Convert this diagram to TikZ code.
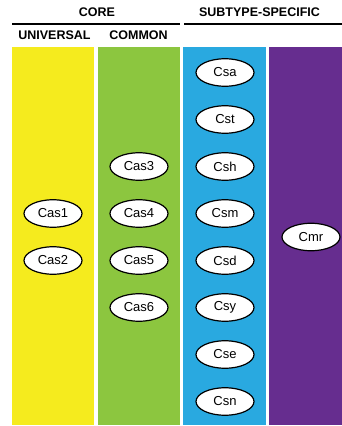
\documentclass[tikz,border=0pt]{standalone}
\usepackage{fontspec}
\setmainfont{Liberation Sans}
\usetikzlibrary{shapes.geometric}
\definecolor{cyel}{HTML}{F5EB1E}
\definecolor{cgrn}{HTML}{8CC63F}
\definecolor{cblu}{HTML}{29A9E0}
\definecolor{cpur}{HTML}{662D8F}
\tikzset{
  gene/.style={ellipse, draw=black, line width=1.2pt, fill=white, minimum width=58pt, minimum height=27.5pt, inner sep=0pt, font=\fontsize{13}{15}\selectfont},
  head/.style={font=\fontsize{12.5}{14}\selectfont\bfseries, inner sep=0pt, anchor=center},
  rule/.style={line width=2pt},
}
\begin{document}
\begin{tikzpicture}[x=1pt,y=-1pt]
\useasboundingbox (0,0) rectangle (342,426);
\fill[white] (0,0) rectangle (342,426);
% columns
\fill[cyel] (12.3,46.7) rectangle (94,425);
\fill[cgrn] (97.7,46.7) rectangle (180,425);
\fill[cblu] (183.3,46.7) rectangle (265.7,425);
\fill[cpur] (269.3,46.7) rectangle (342,425);
% headers
\node[head] (core) at (97,12.5) {CORE};
\node[head] (subtype) at (259.5,12.5) {SUBTYPE-SPECIFIC};
\coordinate (r1a) at (12.3,23.5);
\coordinate (r1b) at (179.5,23.5);
\coordinate (r2a) at (184,23.5);
\coordinate (r2b) at (342,23.5);
\draw[rule] (r1a) -- (r1b);
\draw[rule] (r2a) -- (r2b);
\node[head] (univ) at (54.5,35.5) {UNIVERSAL};
\node[head] (common) at (138.5,35.5) {COMMON};
% universal
\node[gene] (cas1) at (53,213.5) {Cas1};
\node[gene] (cas2) at (53,260.5) {Cas2};
% common
\node[gene] (cas3) at (139,166.5) {Cas3};
\node[gene] (cas4) at (139,213.5) {Cas4};
\node[gene] (cas5) at (139,260.5) {Cas5};
\node[gene] (cas6) at (139,307.5) {Cas6};
% subtype-specific
\node[gene] (csa) at (225,72.5) {Csa};
\node[gene] (cst) at (225,119.5) {Cst};
\node[gene] (csh) at (225,166.5) {Csh};
\node[gene] (csm) at (225,213.5) {Csm};
\node[gene] (csd) at (225,260.5) {Csd};
\node[gene] (csy) at (225,307.5) {Csy};
\node[gene] (cse) at (225,354.5) {Cse};
\node[gene] (csn) at (225,401.5) {Csn};
\node[gene] (cmr) at (311,237) {Cmr};
\end{tikzpicture}
\end{document}
